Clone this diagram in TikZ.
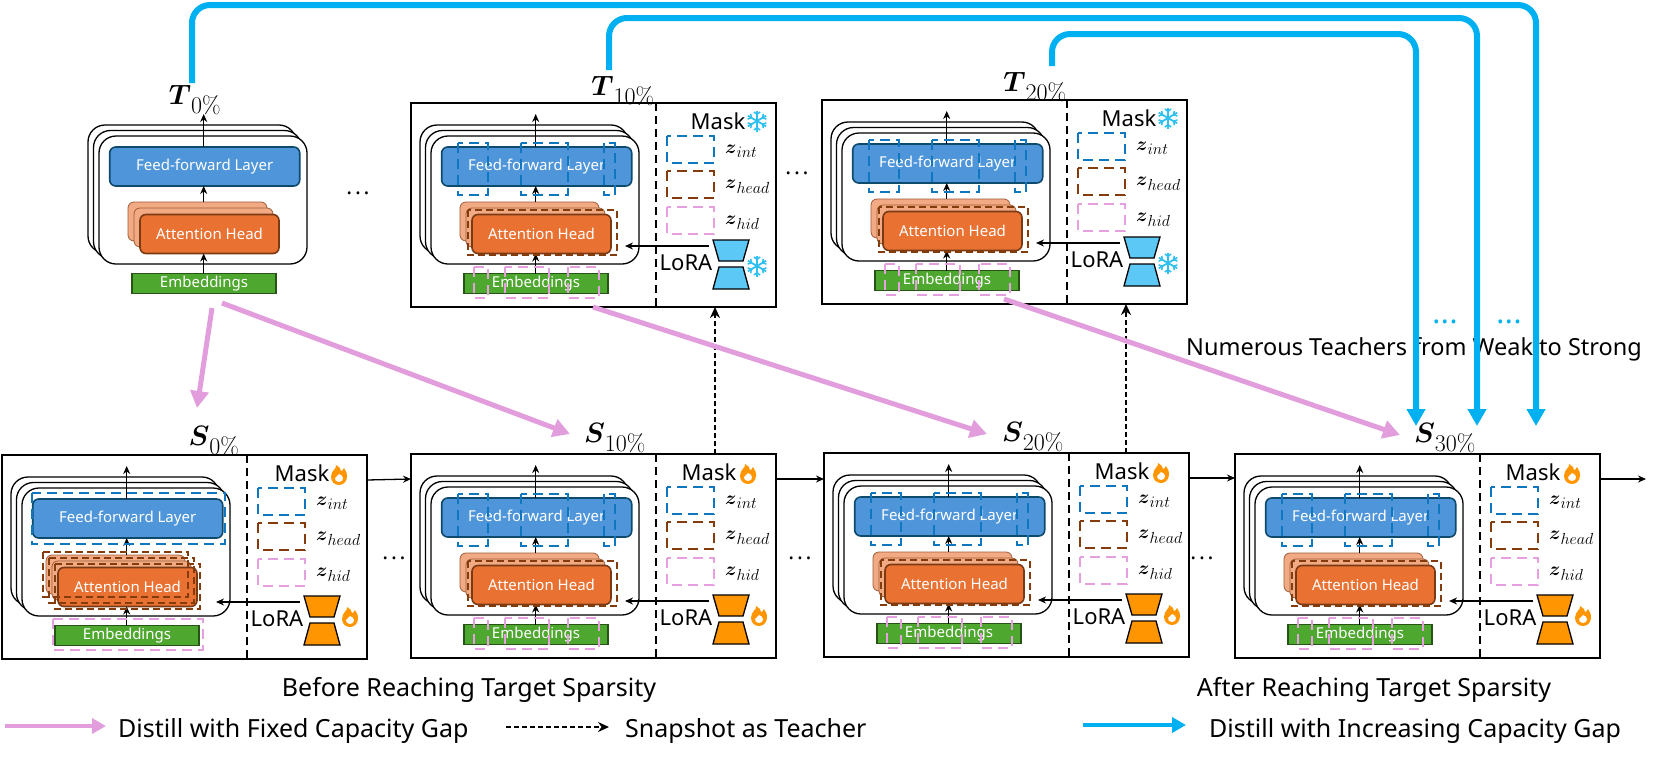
\documentclass[tikz,border=0pt]{standalone}
\usepackage{fix-cm}
\usepackage{amsmath}
\usepackage[no-math]{fontspec}
\setmainfont{Noto Sans}
\usetikzlibrary{arrows.meta}
\DeclareMathSizes{28}{28}{24}{16}
\DeclareMathSizes{19}{19}{16}{10}
\newcommand{\pct}{\mathchar"0025 }
\newcommand{\spacedots}[1]{\textbf{.\kern#1.\kern#1.}}
\definecolor{ffblue}{HTML}{4F95D9}
\definecolor{ffedge}{HTML}{0E4A6B}
\definecolor{headorange}{HTML}{E97132}
\definecolor{headpeach}{HTML}{F2AA84}
\definecolor{headedge}{HTML}{7A3A14}
\definecolor{embgreen}{HTML}{4EA72E}
\definecolor{embedge}{HTML}{275317}
\definecolor{maskblue}{HTML}{0F77C0}
\definecolor{maskbrown}{HTML}{843C0C}
\definecolor{maskpink}{HTML}{E6A0E0}
\definecolor{skyline}{HTML}{00B0F0}
\definecolor{distill}{HTML}{E29EDC}
\definecolor{loraorange}{HTML}{FF9500}
\definecolor{lorasky}{HTML}{5CC8F5}
\definecolor{snowblue}{HTML}{2FC0F0}
\tikzset{
    sizeA/.style={font=\fontsize{15}{17}\selectfont},
    netcard/.style={draw,fill=white,line width=1.3pt,rounded corners=17pt,minimum width=208pt,minimum height=128pt,inner sep=0pt,outer sep=0pt,anchor=north west},
    fflayer/.style={draw=ffedge,fill=ffblue,line width=1.6pt,rounded corners=6pt,minimum width=190pt,minimum height=39pt,inner sep=0pt,outer sep=0pt,text=white,sizeA},
    headback/.style={draw=headedge!70!headpeach,fill=headpeach,line width=.8pt,rounded corners=6pt,minimum width=139pt,minimum height=39pt,inner sep=0pt,outer sep=0pt,anchor=north west},
    headfront/.style={draw=headedge,fill=headorange,line width=1.6pt,rounded corners=6pt,minimum width=139pt,minimum height=39pt,inner sep=0pt,outer sep=0pt,text=white,sizeA,anchor=north west},
    emblayer/.style={draw=embedge,fill=embgreen,line width=1.4pt,minimum width=144pt,minimum height=19.5pt,inner sep=0pt,outer sep=0pt,text=white,sizeA},
    panelbox/.style={draw,line width=1.4pt,minimum width=365pt,minimum height=204pt,inner sep=0pt,outer sep=0pt,anchor=north west},
    maskdash/.style={line width=2pt,dash pattern=on 10pt off 6pt},
    headdash/.style={maskbrown,line width=2pt,dash pattern=on 7pt off 4pt},
    blackarrow/.style={->,line width=1.3pt},
    paneltext/.style={font=\fontsize{22}{24}\selectfont,inner sep=0pt},
    bigtext/.style={font=\fontsize{25}{28}\selectfont,inner sep=0pt},
    modellabel/.style={font=\fontsize{28}{30}\selectfont,inner sep=0pt},
    zlabel/.style={font=\fontsize{19}{21}\selectfont,inner sep=0pt,anchor=west},
    dotlabel/.style={font=\fontsize{22}{24}\selectfont,inner sep=0pt},
    bluedots/.style={font=\fontsize{30}{32}\selectfont,inner sep=0pt,text=skyline},
    bluearrow/.style={skyline,line width=6pt,rounded corners=18pt,-{Triangle[length=17pt,width=18pt]}},
    pinkarrow/.style={distill,line width=5pt,-{Triangle[length=17pt,width=18pt]}},
    snapshot/.style={-{Stealth[length=11pt,width=10pt]},dash pattern=on 5pt off 3pt,line width=1.7pt}
}
% one network stack: prefix, shift of the heads
\newcommand{\modelnet}[3]{
    \node[netcard] at (9,22) (#1carda) {};
    \node[netcard] at (14.5,27.5) (#1cardb) {};
    \node[netcard] at (20,33) (#1card) {};
    \node[fflayer] at (125.7,63.5) (#1ff) {Feed-forward Layer};
    \coordinate (#1top) at (124.7,11);
    \node[headback] at (49+#2,99+#3) (#1heada) {};
    \node[headback] at (55+#2,105+#3) (#1headb) {};
    \node[headfront] at (61+#2,111.5+#3) (#1head) {Attention Head};
    \node[emblayer] at (125,180.5) (#1emb) {Embeddings};
    \draw[blackarrow] (#1ff.north -| #1top) -- (#1top);
    \draw[blackarrow] (#1heada.north -| #1top) -- (#1ff.south -| #1top);
    \draw[blackarrow] (#1emb.north -| #1top) -- (#1head.south -| #1top);
}
% mask side of a panel
\newcommand{\maskside}[6]{
    \draw[line width=2pt,dash pattern=on 8pt off 5pt] (245,0) -- (245,204);
    \node[paneltext] at (#2,18) (#1mask) {Mask};
    \draw[maskblue,maskdash] (256,33) rectangle (303,60);
    \draw[maskbrown,maskdash] (256,68) rectangle (303,95);
    \draw[maskpink,maskdash] (256,104) rectangle (303,131);
    \node[zlabel] at (314,48) (#1zint) {$\boldsymbol{z}_{int}$};
    \node[zlabel] at (314,84) (#1zhead) {$\boldsymbol{z}_{head}$};
    \node[zlabel] at (314,120) (#1zhid) {$\boldsymbol{z}_{hid}$};
    \node[paneltext] at (275,#3+23) (#1lora) {LoRA};
    \coordinate (#1lorain) at (298,#3+6);
    \coordinate (#1loraout) at (214,#3+6);
    \draw[blackarrow] (#1lorain) -- (#1loraout);
    \draw[fill=#4,line width=1.3pt] (302,#3) -- (338,#3) -- (332,#3+21) -- (308,#3+21) -- cycle;
    \draw[fill=#4,line width=1.3pt] (308,#3+27) -- (332,#3+27) -- (338,#3+49) -- (302,#3+49) -- cycle;
    #5
    #6
}
\newcommand{\flameicon}[2]{
    \begin{scope}[shift={(#1,#2)}]
        \fill[loraorange] (-3,-10) .. controls (-2,-6) and (-8,-5) .. (-8,2) .. controls (-8,7) and (-4,10) .. (0,10) .. controls (5,10) and (8,6) .. (8,1) .. controls (8,-3) and (6,-5) .. (5,-7) .. controls (4,-5) and (3,-4) .. (2,-4) .. controls (2,-6) and (0,-9) .. (-3,-10) -- cycle;
        \fill[white] (0,7) .. controls (-3,7) and (-4,5) .. (-4,3) .. controls (-4,1) and (-1,2) .. (0,-1) .. controls (2,0) and (4,1) .. (4,3) .. controls (4,5) and (3,7) .. (0,7) -- cycle;
    \end{scope}
}
\newcommand{\snowicon}[2]{
    \begin{scope}[shift={(#1,#2)}]
        \foreach \a in {30,90,...,330} {
            \draw[snowblue,line width=1.8pt] (0,0) -- (\a:10.5);
            \draw[snowblue,line width=1.5pt] (\a:6.5) -- +(\a+50:4);
            \draw[snowblue,line width=1.5pt] (\a:6.5) -- +(\a-50:4);
        }
    \end{scope}
}
% dashed boxes of a sparse mask, scattered over the layers
\newcommand{\patchmask}{
    \draw[maskblue,maskdash] (46.6,39.5) rectangle (76.6,92);
    \draw[maskblue,maskdash] (110,39.5) rectangle (156.6,92);
    \draw[maskblue,maskdash] (193,39.5) rectangle (204,92);
    \draw[headdash] (57,107) rectangle (206,152);
    \draw[maskpink,maskdash] (63.3,163.5) rectangle (76.6,195);
    \draw[maskpink,maskdash] (94.3,163.5) rectangle (138.3,195);
    \draw[maskpink,maskdash] (157,163.5) rectangle (187.6,195);
}
\newcommand{\widemask}{
    \draw[maskblue,maskdash] (29.7,37.7) rectangle (223,89);
    \draw[headdash] (41.3,96.7) rectangle (186.3,142);
    \draw[headdash] (47.3,102.7) rectangle (192.3,148);
    \draw[headdash] (53.3,108.7) rectangle (198.3,154);
    \draw[maskpink,maskdash] (50.7,164) rectangle (200.7,195);
}
\begin{document}
\begin{tikzpicture}[x=1pt, y=-1pt, >={Stealth[length=8pt,width=7pt]}]
    \useasboundingbox (0,0) rectangle (1661,763);
    % teachers
    \begin{scope}[shift={(79,103)}]
        \modelnet{tzero}{0}{0}
    \end{scope}
    \begin{scope}[shift={(411,103)}]
        \node[panelbox] at (0,0) (tten) {};
        \modelnet{ttenn}{0}{0}
        \patchmask
        \maskside{tten}{307}{137}{lorasky}{\snowicon{346}{18}}{\snowicon{346}{163}}
    \end{scope}
    \begin{scope}[shift={(822,100)}]
        \node[panelbox] at (0,0) (ttwenty) {};
        \modelnet{ttwentyn}{0}{0}
        \patchmask
        \maskside{ttwenty}{307}{137}{lorasky}{\snowicon{346}{18}}{\snowicon{346}{163}}
    \end{scope}
    % students
    \begin{scope}[shift={(2,455)}]
        \node[panelbox] at (0,0) (szero) {};
        \modelnet{szeron}{-5}{1}
        \widemask
        \maskside{szero}{300}{141}{loraorange}{\flameicon{337}{20}}{\flameicon{348}{162}}
    \end{scope}
    \begin{scope}[shift={(411,454)}]
        \node[panelbox] at (0,0) (sten) {};
        \modelnet{stenn}{0}{0}
        \patchmask
        \maskside{sten}{298}{141}{loraorange}{\flameicon{337}{20}}{\flameicon{348}{162}}
    \end{scope}
    \begin{scope}[shift={(824,453)}]
        \node[panelbox] at (0,0) (stwenty) {};
        \modelnet{stwentyn}{0}{0}
        \patchmask
        \maskside{stwenty}{298}{141}{loraorange}{\flameicon{337}{20}}{\flameicon{348}{162}}
    \end{scope}
    \begin{scope}[shift={(1235,454)}]
        \node[panelbox] at (0,0) (sthirty) {};
        \modelnet{sthirtyn}{0}{0}
        \patchmask
        \maskside{sthirty}{298}{141}{loraorange}{\flameicon{337}{20}}{\flameicon{348}{162}}
    \end{scope}
    % labels
    \node[modellabel] at (195,100) (tzerolab) {$\boldsymbol{T}_{0\pct}$};
    \node[modellabel] at (623,91) (ttenlab) {$\boldsymbol{T}_{10\pct}$};
    \node[modellabel] at (1035,87) (ttwentylab) {$\boldsymbol{T}_{20\pct}$};
    \node[modellabel] at (214,441) (szerolab) {$\boldsymbol{S}_{0\pct}$};
    \node[modellabel] at (615,438) (stenlab) {$\boldsymbol{S}_{10\pct}$};
    \node[modellabel] at (1033,437) (stwentylab) {$\boldsymbol{S}_{20\pct}$};
    \node[modellabel] at (1445,438) (sthirtylab) {$\boldsymbol{S}_{30\pct}$};
    % arrows along the students
    \coordinate (outend) at (1646,479);
    \draw[blackarrow] ([yshift=77pt]szero.east) -- ([yshift=77pt]sten.west);
    \draw[blackarrow] ([yshift=77pt]sten.east) -- ([yshift=77pt]sten.east -| stwenty.west);
    \draw[blackarrow] ([yshift=77pt]stwenty.east) -- ([yshift=77pt]stwenty.east -| sthirty.west);
    \draw[blackarrow] (sthirty.east |- outend) -- (outend);
    % snapshots
    \coordinate (snapten) at (715,454);
    \coordinate (snaptwenty) at (1126,453);
    \draw[snapshot] (snapten) -- (snapten |- tten.south);
    \draw[snapshot] (snaptwenty) -- (snaptwenty |- ttwenty.south);
    % distill arrows
    \coordinate (tzeroa) at (212,308);
    \coordinate (tzerob) at (222,303);
    \coordinate (szeroin) at (197,408);
    \coordinate (stenin) at (570,434);
    \coordinate (ttenout) at (593,307);
    \coordinate (stwentyin) at (987,434);
    \coordinate (ttwentyout) at (1004,299);
    \coordinate (sthirtyin) at (1400,435);
    \draw[pinkarrow] (tzeroa) -- (szeroin);
    \draw[pinkarrow] (tzerob) -- (stenin);
    \draw[pinkarrow] (ttenout) -- (stwentyin);
    \draw[pinkarrow] (ttwentyout) -- (sthirtyin);
    % teacher lines
    \node[inner sep=0pt,font=\fontsize{23.5}{26}\selectfont] at (1414,349) (numerous) {Numerous Teachers from Weak to Strong};
    \coordinate (tzeroup) at (192,83);
    \coordinate (ttenup) at (609,70);
    \coordinate (ttwentyup) at (1052,66);
    \coordinate (lineA) at (1536,426);
    \coordinate (lineB) at (1477,426);
    \coordinate (lineC) at (1416,426);
    \coordinate (cornerA) at (1536,5);
    \coordinate (cornerB) at (1477,18);
    \coordinate (cornerC) at (1416,34);
    \draw[bluearrow] (tzeroup) |- (cornerA) -- (lineA);
    \draw[bluearrow] (ttenup) |- (cornerB) -- (lineB);
    \draw[bluearrow] (ttwentyup) |- (cornerC) -- (lineC);
    \node[bluedots] at (1445,322) (bluedotsa) {\spacedots{.5pt}};
    \node[bluedots] at (1509,322) (bluedotsb) {\spacedots{.5pt}};
    % dots between panels
    \node[dotlabel] at (358,193) (dotsa) {\spacedots{2.7pt}};
    \node[dotlabel] at (797,173) (dotsb) {\spacedots{2.7pt}};
    \node[dotlabel] at (394,558) (dotsc) {\spacedots{2.7pt}};
    \node[dotlabel] at (800,558) (dotsd) {\spacedots{2.7pt}};
    \node[dotlabel] at (1202,558) (dotse) {\spacedots{2.7pt}};
    % captions and legend
    \node[bigtext] at (469,690) (before) {Before Reaching Target Sparsity};
    \node[bigtext] at (1374,690) (after) {After Reaching Target Sparsity};
    \coordinate (pinkfrom) at (5,726);
    \coordinate (pinkto) at (106,726);
    \node[bigtext,anchor=west] at (118,731) (pinktext) {Distill with Fixed Capacity Gap};
    \coordinate (dashfrom) at (506,727);
    \coordinate (dashto) at (609,727);
    \node[bigtext,anchor=west] at (625,731) (dashtext) {Snapshot as Teacher};
    \coordinate (bluefrom) at (1083,725);
    \coordinate (blueto) at (1186,725);
    \node[bigtext,anchor=west] at (1209,731) (bluetext) {Distill with Increasing Capacity Gap};
    \draw[pinkarrow,line width=4pt,-{Triangle[length=14pt,width=15pt]}] (pinkfrom) -- (pinkto);
    \draw[snapshot] (dashfrom) -- (dashto);
    \draw[skyline,line width=4pt,-{Triangle[length=14pt,width=15pt]}] (bluefrom) -- (blueto);
\end{tikzpicture}
\end{document}
